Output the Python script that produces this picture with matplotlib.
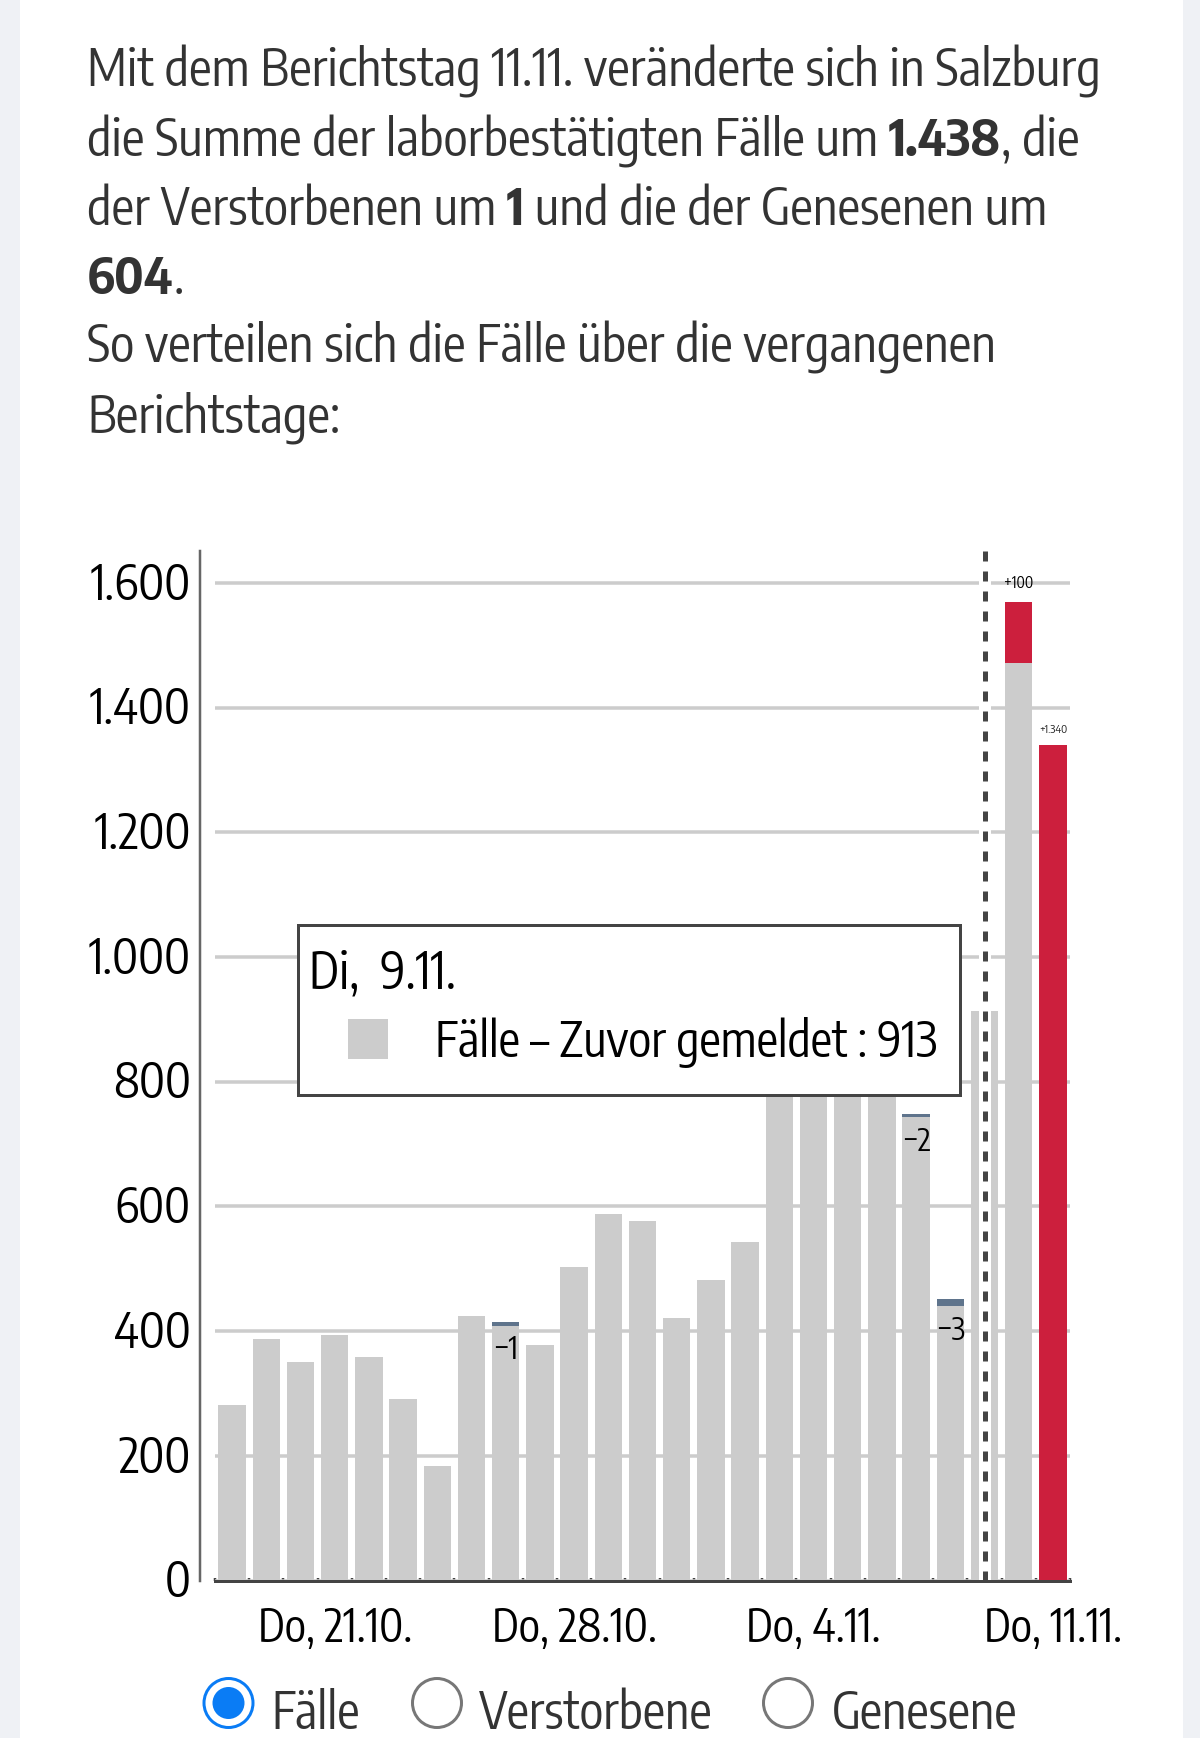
import matplotlib
matplotlib.use("Agg")
from matplotlib import pyplot as plt
from matplotlib.patches import Rectangle, Circle
from matplotlib.transforms import ScaledTranslation

W, H = 1200, 1738
FONT = ["Encode Sans Condensed", "DejaVu Sans"]

# gray part of every bar, one per reporting day (16-19 sit behind the tooltip)
gray = [281, 387, 351, 394, 358, 292, 184, 424, 408, 378, 503, 588, 577, 421, 482, 543,
        880, 850, 830, 800, 743, 440, 913, 1471, 0]
removed = {8: 7, 20: 6, 21: 12}
removed_labels = {8: "\u22121", 20: "\u22122", 21: "\u22123"}
added = {23: 99, 24: 1340}
added_labels = {23: "+100", 24: "+1.340"}
y_ticks = [0, 200, 400, 600, 800, 1000, 1200, 1400, 1600]
y_labels = ["0", "200", "400", "600", "800", "1.000", "1.200", "1.400", "1.600"]
x_ticks = [3, 10, 17, 24]
x_labels = ["Do, 21.10.", "Do, 28.10.", "Do, 4.11.", "Do, 11.11."]
radio_labels = ["Fälle", "Verstorbene", "Genesene"]

intro = [
    [("Mit dem Berichtstag 11.11. veränderte sich in Salzburg", False)],
    [("die Summe der laborbestätigten Fälle um ", False), ("1.438", True), (", die", False)],
    [("der Verstorbenen um ", False), ("1", True), (" und die der Genesenen um", False)],
    [("604", True), (".", False)],
    [("So verteilen sich die Fälle über die vergangenen", False)],
    [("Berichtstage:", False)],
]

px = 0.72  # one pixel in points at dpi 100
GRAY, BLUE, RED, DARK = "#cccccc", "#5f748c", "#cc1f3d", "#444444"

fig = plt.figure(figsize=(W / 100, H / 100), dpi=100, facecolor="#eff1f5")

# full figure layer in pixel coordinates for the page furniture
bg = fig.add_axes([0, 0, 1, 1], zorder=0)
bg.set_xlim(0, W)
bg.set_ylim(H, 0)
bg.axis("off")
bg.add_patch(Rectangle((20, 0), 1163, H, fc="white", ec="none"))

ax = fig.add_axes([215 / W, (H - 1580.6) / H, 855 / W, (1580.6 - 551) / H], zorder=1)
ax.patch.set_alpha(0)
ax.set_xlim(-0.5, 24.5)
ax.set_ylim(0, 1651)
ax.set_axisbelow(True)
ax.grid(axis="y", color=GRAY, lw=3.5 * px)
ax.bar(range(25), gray, width=0.8, color=GRAY, zorder=2)
for i, v in removed.items():
    ax.bar(i, v, bottom=gray[i], width=0.8, color=BLUE, zorder=2)
    ax.annotate(removed_labels[i], xy=(i, gray[i]), xytext=(0, -6), textcoords="offset points",
                ha="center", va="top", fontsize=22, family=FONT, color="black", zorder=3)
for i, v in added.items():
    ax.bar(i, v, bottom=gray[i], width=0.8, color=RED, zorder=2)
ax.annotate(added_labels[23], xy=(23, 1570), xytext=(0, 7), textcoords="offset points",
            ha="center", va="bottom", fontsize=11, family=FONT, color="black", zorder=3)
ax.annotate(added_labels[24], xy=(24, 1340), xytext=(0, 7), textcoords="offset points",
            ha="center", va="bottom", fontsize=8, family=FONT, color="#222222", zorder=3)

# separator before the current day, white halo under the dashes
ax.axvline(22, color="white", lw=12 * px, zorder=3)
ax.axvline(22, color=DARK, lw=5 * px, dashes=(2, 2), zorder=4)

for s in ["top", "right"]:
    ax.spines[s].set_visible(False)
ax.spines["bottom"].set_color(DARK)
ax.spines["bottom"].set_linewidth(3 * px)
ax.spines["bottom"].set_zorder(5)
ax.spines["left"].set_position(("outward", 15 * px))
ax.spines["left"].set_color("#666666")
ax.spines["left"].set_linewidth(2.5 * px)

ax.set_yticks(y_ticks, y_labels, fontsize=34.5, family=FONT, color="black")
ax.set_xticks(x_ticks, x_labels, fontsize=32, family=FONT, color="black")
ax.set_xticks([i + 0.5 for i in range(-1, 25)], minor=True)
ax.tick_params(axis="y", length=0, pad=6.5)
ax.tick_params(axis="x", which="major", length=0, pad=18)
ax.tick_params(axis="x", which="minor", length=3 * px, width=2.5 * px, direction="in", color=DARK)
# labels sit a little above the gridline centre
lift = ScaledTranslation(0, 3 / 100, fig.dpi_scale_trans)
for lab in ax.get_yticklabels():
    lab.set_transform(lab.get_transform() + lift)

# tooltip and intro text live on a top layer
top = fig.add_axes([0, 0, 1, 1], zorder=2)
top.set_xlim(0, W)
top.set_ylim(H, 0)
top.axis("off")
top.add_patch(Rectangle((298, 925), 662, 170, fc="white", ec=DARK, lw=3 * px))
top.add_patch(Rectangle((348, 1019), 40, 40, fc=GRAY, ec="none"))
top.text(309, 988, "Di,  9.11.", fontsize=36, family=FONT, color="black", va="baseline")
top.text(435, 1057, "Fälle – Zuvor gemeldet : 913", fontsize=34.6, family=FONT, color="black", va="baseline")

fig.canvas.draw()
rend = fig.canvas.get_renderer()
for n, runs in enumerate(intro):
    x = 87
    y = 87 + n * 69
    for txt, bold in runs:
        t = top.text(x, y, txt, fontsize=36.6, family=FONT, color="#333333", va="baseline",
                     fontweight="bold" if bold else "normal")
        # trailing spaces count towards the run width here
        bb = t.get_window_extent(rend)
        x += bb.width

# radio buttons
centers = [228.5, 437, 788]
label_x = [271, 479, 832]
for i, (cx, lx, name) in enumerate(zip(centers, label_x, radio_labels)):
    col = "#0a7cf5" if i == 0 else "#777777"
    top.add_patch(Circle((cx, 1703), 24.5, fc="white", ec=col, lw=3 * px))
    if i == 0:
        top.add_patch(Circle((cx, 1703), 16, fc=col, ec="none"))
    top.text(lx, 1729, name, fontsize=36, family=FONT, color="#333333", va="baseline")

fig.savefig("out.png", dpi=100, facecolor=fig.get_facecolor())
